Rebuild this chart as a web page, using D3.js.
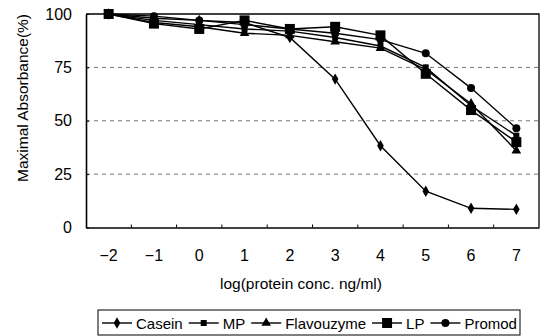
<!DOCTYPE html>
<html>
<head>
<meta charset="utf-8">
<script src="https://cdn.jsdelivr.net/npm/d3@7"></script>
<style>
  body { margin: 0; background: #fff; }
  svg { display: block; font-family: Arial, 'Liberation Sans', sans-serif; }
</style>
</head>
<body>
<div id="chart"></div>
<script>
const WIDTH = 545;
const HEIGHT = 336;
const MARGIN = { left: 86, right: 6, top: 14, bottom: 108.5 };

const categories = [-2, -1, 0, 1, 2, 3, 4, 5, 6, 7];
const yTicks = [0, 25, 50, 75, 100];

const casein = [100, 98, 97, 96, 89, 69.5, 38.3, 17, 9, 8.5];
const mp = [100, 97, 95, 93, 92, 89, 85, 75, 57, 43];
const flavouzyme = [100, 96, 94, 91, 90, 87, 84, 74, 58, 36];
const lp = [100, 95.5, 93, 97, 93, 94, 90, 72, 55, 40];
const promod = [100, 99, 97, 95, 93, 91, 88, 81.6, 65.3, 46.5];

const seriesNames = ['Casein', 'MP', 'Flavouzyme', 'LP', 'Promod'];
const seriesValues = [casein, mp, flavouzyme, lp, promod];
const seriesSymbols = [d3.symbolDiamond, d3.symbolSquare, d3.symbolTriangle, d3.symbolSquare, d3.symbolCircle];
const symbolSizes = [38, 36, 40, 100, 50];

const svg = d3.select('#chart').append('svg')
  .attr('width', WIDTH)
  .attr('height', HEIGHT);

const x = d3.scaleBand()
  .domain(categories)
  .range([MARGIN.left, WIDTH - MARGIN.right])
  .paddingInner(0).paddingOuter(0);

const y = d3.scaleLinear()
  .domain([0, 100])
  .range([HEIGHT - MARGIN.bottom, MARGIN.top]);

const cx = d => x(d) + x.bandwidth() / 2;

// dashed gridlines
svg.append('g')
  .selectAll('line')
  .data(yTicks.filter(t => t > 0 && t < 100))
  .join('line')
  .attr('x1', MARGIN.left).attr('x2', WIDTH - MARGIN.right)
  .attr('y1', d => y(d)).attr('y2', d => y(d))
  .attr('stroke', '#777')
  .attr('stroke-width', 1)
  .attr('stroke-dasharray', '4,4');

// plot border (top + right)
svg.append('path')
  .attr('d', `M${MARGIN.left},${y(100)}H${WIDTH - MARGIN.right}V${y(0)}`)
  .attr('fill', 'none')
  .attr('stroke', '#000')
  .attr('stroke-width', 1.3);

// y axis
svg.append('g')
  .attr('transform', `translate(${MARGIN.left},0)`)
  .call(d3.axisLeft(y).tickValues(yTicks).tickSizeInner(-3).tickSizeOuter(0).tickPadding(14))
  .call(g => g.select('.domain').attr('stroke-width', 1.6))
  .call(g => g.selectAll('text').attr('font-size', 16).attr('fill', '#000').attr('font-family', 'Arial, Liberation Sans, sans-serif'));

// x axis
const xAxisG = svg.append('g')
  .attr('transform', `translate(0,${y(0)})`)
  .call(d3.axisBottom(x).tickSize(0).tickPadding(22).tickFormat(d => d < 0 ? '\u2212' + Math.abs(d) : d))
  .call(g => g.select('.domain').attr('stroke-width', 1.6))
  .call(g => g.selectAll('text').attr('font-size', 16).attr('fill', '#000').attr('font-family', 'Arial, Liberation Sans, sans-serif'));

xAxisG.selectAll('.sep')
  .data(categories.slice(1))
  .join('line')
  .attr('class', 'sep')
  .attr('x1', d => x(d)).attr('x2', d => x(d))
  .attr('y1', 0).attr('y2', -3)
  .attr('stroke', '#000');

// series
const line = d3.line()
  .x((d, i) => cx(categories[i]))
  .y(d => y(d));

seriesValues.forEach((vals, s) => {
  svg.append('path')
    .datum(vals)
    .attr('fill', 'none')
    .attr('stroke', '#000')
    .attr('stroke-width', 1.4)
    .attr('d', line);
});

seriesValues.forEach((vals, s) => {
  svg.append('g')
    .selectAll('path')
    .data(vals)
    .join('path')
    .attr('transform', (d, i) => `translate(${cx(categories[i])},${y(d)})`)
    .attr('d', d3.symbol().type(seriesSymbols[s]).size(symbolSizes[s]))
    .attr('fill', '#000');
});

// axis titles
svg.append('text')
  .attr('x', 301)
  .attr('y', 289)
  .attr('text-anchor', 'middle')
  .attr('font-size', 15.5)
  .text('log(protein conc. ng/ml)');

svg.append('text')
  .attr('transform', 'rotate(-90)')
  .attr('x', -98)
  .attr('y', 28)
  .attr('text-anchor', 'middle')
  .attr('font-size', 15.5)
  .text('Maximal Absorbance(%)');

// legend, laid out left to right
const legend = svg.append('g');
legend.append('rect')
  .attr('x', 98).attr('y', 310)
  .attr('width', 422).attr('height', 25)
  .attr('fill', '#fff')
  .attr('stroke', '#000')
  .attr('stroke-width', 1);

const legendY = 323;
const lineW = 30;
let lx = 102;
seriesNames.forEach((name, s) => {
  legend.append('line')
    .attr('x1', lx).attr('x2', lx + lineW)
    .attr('y1', legendY).attr('y2', legendY)
    .attr('stroke', '#000').attr('stroke-width', 1.4);
  legend.append('path')
    .attr('transform', `translate(${lx + lineW / 2},${legendY})`)
    .attr('d', d3.symbol().type(seriesSymbols[s]).size(symbolSizes[s]))
    .attr('fill', '#000');
  const t = legend.append('text')
    .attr('x', lx + lineW + 4)
    .attr('y', legendY + 5.5)
    .attr('font-size', 15)
    .text(name);
  lx += lineW + 4 + t.node().getComputedTextLength() + 6;
});
</script>
</body>
</html>
